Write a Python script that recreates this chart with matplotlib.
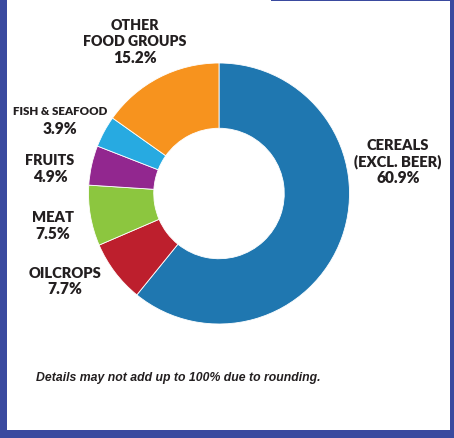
import matplotlib
matplotlib.use("Agg")
import matplotlib.pyplot as plt
from matplotlib.patches import Rectangle

W, H = 454, 439

categories = ["CEREALS\n(EXCL. BEER)", "OILCROPS", "MEAT", "FRUITS", "FISH & SEAFOOD", "OTHER\nFOOD GROUPS"]
values = [60.9, 7.7, 7.5, 4.9, 3.9, 15.2]
colors = ["#1f77b0", "#bd1f2d", "#8cc63f", "#92278f", "#27aae1", "#f7931e"]
pct_labels = ["60.9%", "7.7%", "7.5%", "4.9%", "3.9%", "15.2%"]
note = "Details may not add up to 100% due to rounding."

fig = plt.figure(figsize=(W / 100, H / 100), dpi=100)
fig.patch.set_facecolor("white")

def px(x, y):
    return x / W, 1 - y / H

# border
border = "#3a4a9f"
fig.add_artist(Rectangle((0, 0), 7 / W, 1, transform=fig.transFigure, color=border, lw=0))
fig.add_artist(Rectangle((450 / W, 0), 4 / W, 1, transform=fig.transFigure, color=border, lw=0))
fig.add_artist(Rectangle((0, 0), 1, 8 / H, transform=fig.transFigure, color=border, lw=0))
fig.add_artist(Rectangle((271 / W, 1 - 2 / H), (454 - 271) / W, 2 / H, transform=fig.transFigure, color=border, lw=0))

# donut
cx, cy, r = 219, 194.5, 130.5
ax = fig.add_axes([(cx - r) / W, (H - cy - r) / H, 2 * r / W, 2 * r / H])
ax.pie(values, colors=colors, startangle=90, counterclock=False,
       wedgeprops=dict(width=0.5, edgecolor="white", linewidth=0.6), radius=1)
ax.set_xlim(-1, 1)
ax.set_ylim(-1, 1)
ax.set_aspect("equal")
ax.axis("off")

tc = "#231f20"
fam = ["Lato", "DejaVu Sans"]

label_pos = [(398, 145), (65, 273), (53, 218), (50, 161), (60, 112), (135, 25)]
sizes = [10.6, 10.6, 10.6, 10.3, 8.3, 10.2]
for cat, pct, (x, y), s in zip(categories, pct_labels, label_pos, sizes):
    lines = cat.split("\n")
    yy = y
    for ln in lines:
        fig.text(*px(x, yy), ln, ha="center", va="center", fontsize=s,
                 fontweight="heavy", family=fam, color=tc)
        yy += 16.5
    fig.text(*px(x, yy), pct, ha="center", va="center", fontsize=11.2,
             fontweight="heavy", family=fam, color=tc)

fig.text(*px(36, 378), note, ha="left", va="center", fontsize=8.8,
         fontweight="bold", style="italic", family=["Liberation Sans"], color=tc)

fig.savefig("out.png", dpi=100, facecolor="white")
